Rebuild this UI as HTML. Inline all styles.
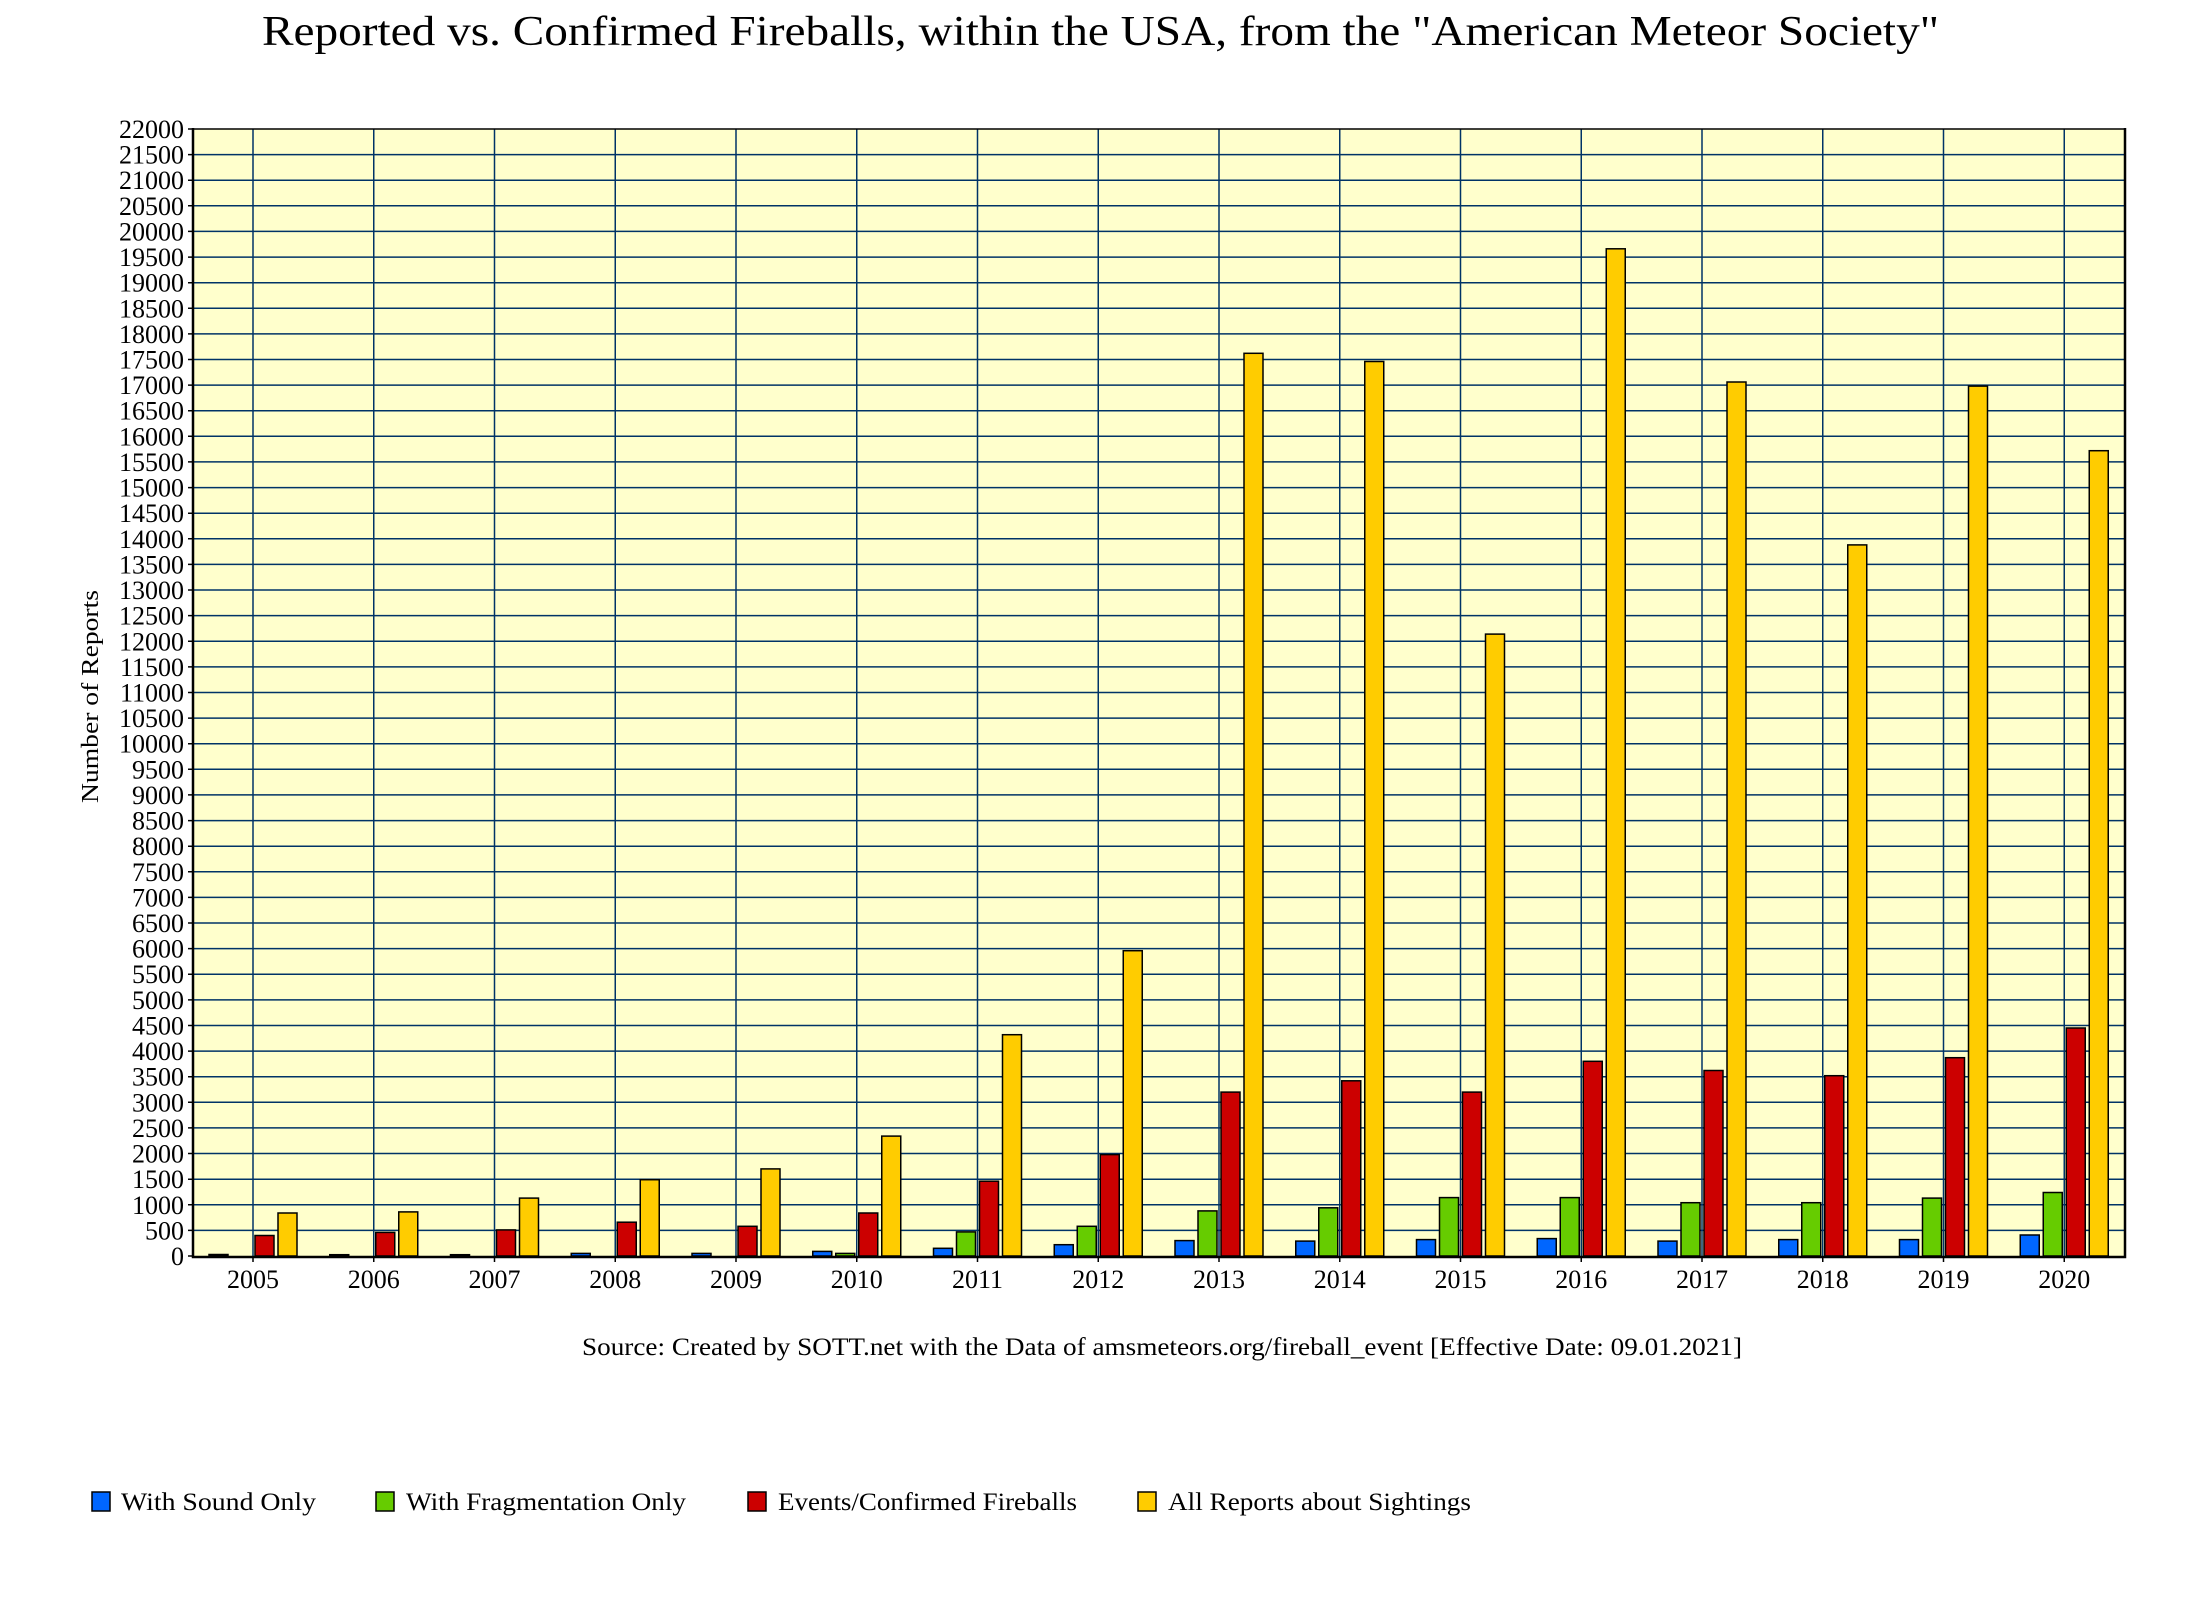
<!DOCTYPE html>
<html><head><meta charset="utf-8"><style>html,body{margin:0;padding:0;background:#fff}svg{display:block}</style></head>
<body>
<svg width="2190" height="1610" viewBox="0 0 2190 1610" xmlns="http://www.w3.org/2000/svg" font-family="'Liberation Serif', serif">
<text x="262" y="45" font-size="42" textLength="1677" lengthAdjust="spacingAndGlyphs">Reported vs. Confirmed Fireballs, within the USA, from the "American Meteor Society"</text>
<rect x="193" y="129" width="1932" height="1127" fill="#FFFFCC"/>
<g stroke="#003366" stroke-width="1.5" fill="none">
<path d="M193 1230.4H2125M193 1204.8H2125M193 1179.2H2125M193 1153.5H2125M193 1127.9H2125M193 1102.3H2125M193 1076.7H2125M193 1051.1H2125M193 1025.5H2125M193 999.9H2125M193 974.2H2125M193 948.6H2125M193 923H2125M193 897.4H2125M193 871.8H2125M193 846.2H2125M193 820.6H2125M193 794.9H2125M193 769.3H2125M193 743.7H2125M193 718.1H2125M193 692.5H2125M193 666.9H2125M193 641.3H2125M193 615.6H2125M193 590H2125M193 564.4H2125M193 538.8H2125M193 513.2H2125M193 487.6H2125M193 461.9H2125M193 436.3H2125M193 410.7H2125M193 385.1H2125M193 359.5H2125M193 333.9H2125M193 308.3H2125M193 282.7H2125M193 257.1H2125M193 231.4H2125M193 205.8H2125M193 180.2H2125M193 154.6H2125"/>
<path d="M253 129V1256M373.75 129V1256M494.5 129V1256M615.25 129V1256M736 129V1256M856.75 129V1256M977.5 129V1256M1098.25 129V1256M1219 129V1256M1339.75 129V1256M1460.5 129V1256M1581.25 129V1256M1702 129V1256M1822.75 129V1256M1943.5 129V1256M2064.25 129V1256"/>
</g>
<g stroke="#000" stroke-width="1.5" fill="none">
<path d="M253 1256v6M373.75 1256v6M494.5 1256v6M615.25 1256v6M736 1256v6M856.75 1256v6M977.5 1256v6M1098.25 1256v6M1219 1256v6M1339.75 1256v6M1460.5 1256v6M1581.25 1256v6M1702 1256v6M1822.75 1256v6M1943.5 1256v6M2064.25 1256v6"/>
<path d="M188 1256h5M188 1230.4h5M188 1204.8h5M188 1179.2h5M188 1153.5h5M188 1127.9h5M188 1102.3h5M188 1076.7h5M188 1051.1h5M188 1025.5h5M188 999.9h5M188 974.2h5M188 948.6h5M188 923h5M188 897.4h5M188 871.8h5M188 846.2h5M188 820.6h5M188 794.9h5M188 769.3h5M188 743.7h5M188 718.1h5M188 692.5h5M188 666.9h5M188 641.3h5M188 615.6h5M188 590h5M188 564.4h5M188 538.8h5M188 513.2h5M188 487.6h5M188 461.9h5M188 436.3h5M188 410.7h5M188 385.1h5M188 359.5h5M188 333.9h5M188 308.3h5M188 282.7h5M188 257.1h5M188 231.4h5M188 205.8h5M188 180.2h5M188 154.6h5M188 129h5"/>
</g>
<g transform="translate(0,1256) scale(1,-1)" stroke="#000" stroke-width="1.5">
<g fill="#0066FF">
<rect x="209" y="0" width="19" height="1.5"/><rect x="329.75" y="0" width="19" height="1.3"/><rect x="450.5" y="0" width="19" height="1.3"/><rect x="571.25" y="0" width="19" height="2.6"/><rect x="692" y="0" width="19" height="2.6"/><rect x="812.75" y="0" width="19" height="4.6"/><rect x="933.5" y="0" width="19" height="7.7"/><rect x="1054.25" y="0" width="19" height="11.3"/><rect x="1175" y="0" width="19" height="15.4"/><rect x="1295.75" y="0" width="19" height="14.9"/><rect x="1416.5" y="0" width="19" height="16.4"/><rect x="1537.25" y="0" width="19" height="17.4"/><rect x="1658" y="0" width="19" height="14.9"/><rect x="1778.75" y="0" width="19" height="16.4"/><rect x="1899.5" y="0" width="19" height="16.4"/><rect x="2020.25" y="0" width="19" height="21"/>
</g>
<g fill="#66CC00">
<rect x="835.75" y="0" width="19" height="2.6"/><rect x="956.5" y="0" width="19" height="24.1"/><rect x="1077.25" y="0" width="19" height="29.7"/><rect x="1198" y="0" width="19" height="45.1"/><rect x="1318.75" y="0" width="19" height="48.2"/><rect x="1439.5" y="0" width="19" height="58.4"/><rect x="1560.25" y="0" width="19" height="58.4"/><rect x="1681" y="0" width="19" height="53.3"/><rect x="1801.75" y="0" width="19" height="53.3"/><rect x="1922.5" y="0" width="19" height="57.9"/><rect x="2043.25" y="0" width="19" height="63.5"/>
</g>
<g fill="#CC0000">
<rect x="255" y="0" width="19" height="20.5"/><rect x="375.75" y="0" width="19" height="23.6"/><rect x="496.5" y="0" width="19" height="26.1"/><rect x="617.25" y="0" width="19" height="33.8"/><rect x="738" y="0" width="19" height="29.7"/><rect x="858.75" y="0" width="19" height="43"/><rect x="979.5" y="0" width="19" height="74.8"/><rect x="1100.25" y="0" width="19" height="101.4"/><rect x="1221" y="0" width="19" height="163.9"/><rect x="1341.75" y="0" width="19" height="175.2"/><rect x="1462.5" y="0" width="19" height="163.9"/><rect x="1583.25" y="0" width="19" height="194.7"/><rect x="1704" y="0" width="19" height="185.5"/><rect x="1824.75" y="0" width="19" height="180.3"/><rect x="1945.5" y="0" width="19" height="198.3"/><rect x="2066.25" y="0" width="19" height="228"/>
</g>
<g fill="#FFCC00">
<rect x="278" y="0" width="19" height="43"/><rect x="398.75" y="0" width="19" height="44.1"/><rect x="519.5" y="0" width="19" height="57.9"/><rect x="640.25" y="0" width="19" height="76.3"/><rect x="761" y="0" width="19" height="87.1"/><rect x="881.75" y="0" width="19" height="119.9"/><rect x="1002.5" y="0" width="19" height="221.3"/><rect x="1123.25" y="0" width="19" height="305.3"/><rect x="1244" y="0" width="19" height="902.7"/><rect x="1364.75" y="0" width="19" height="894.5"/><rect x="1485.5" y="0" width="19" height="621.9"/><rect x="1606.25" y="0" width="19" height="1007.2"/><rect x="1727" y="0" width="19" height="874"/><rect x="1847.75" y="0" width="19" height="711.1"/><rect x="1968.5" y="0" width="19" height="869.9"/><rect x="2089.25" y="0" width="19" height="805.3"/>
</g>
</g>
<g stroke="#000" stroke-width="2.5" fill="none">
<path d="M193 128V1257H2125V128"/>
</g>
<path d="M193 129H2125" stroke="#000" stroke-width="1.5"/>
<g font-size="26" text-anchor="end">
<text x="184" y="1265">0</text><text x="184" y="1239.4">500</text><text x="184" y="1213.8">1000</text><text x="184" y="1188.2">1500</text><text x="184" y="1162.5">2000</text><text x="184" y="1136.9">2500</text><text x="184" y="1111.3">3000</text><text x="184" y="1085.7">3500</text><text x="184" y="1060.1">4000</text><text x="184" y="1034.5">4500</text><text x="184" y="1008.9">5000</text><text x="184" y="983.2">5500</text><text x="184" y="957.6">6000</text><text x="184" y="932">6500</text><text x="184" y="906.4">7000</text><text x="184" y="880.8">7500</text><text x="184" y="855.2">8000</text><text x="184" y="829.6">8500</text><text x="184" y="803.9">9000</text><text x="184" y="778.3">9500</text><text x="184" y="752.7">10000</text><text x="184" y="727.1">10500</text><text x="184" y="701.5">11000</text><text x="184" y="675.9">11500</text><text x="184" y="650.3">12000</text><text x="184" y="624.6">12500</text><text x="184" y="599">13000</text><text x="184" y="573.4">13500</text><text x="184" y="547.8">14000</text><text x="184" y="522.2">14500</text><text x="184" y="496.6">15000</text><text x="184" y="470.9">15500</text><text x="184" y="445.3">16000</text><text x="184" y="419.7">16500</text><text x="184" y="394.1">17000</text><text x="184" y="368.5">17500</text><text x="184" y="342.9">18000</text><text x="184" y="317.3">18500</text><text x="184" y="291.7">19000</text><text x="184" y="266.1">19500</text><text x="184" y="240.4">20000</text><text x="184" y="214.8">20500</text><text x="184" y="189.2">21000</text><text x="184" y="163.6">21500</text><text x="184" y="138">22000</text>
</g>
<g font-size="26" text-anchor="middle">
<text x="253" y="1288">2005</text><text x="373.75" y="1288">2006</text><text x="494.5" y="1288">2007</text><text x="615.25" y="1288">2008</text><text x="736" y="1288">2009</text><text x="856.75" y="1288">2010</text><text x="977.5" y="1288">2011</text><text x="1098.25" y="1288">2012</text><text x="1219" y="1288">2013</text><text x="1339.75" y="1288">2014</text><text x="1460.5" y="1288">2015</text><text x="1581.25" y="1288">2016</text><text x="1702" y="1288">2017</text><text x="1822.75" y="1288">2018</text><text x="1943.5" y="1288">2019</text><text x="2064.25" y="1288">2020</text>
</g>
<text transform="translate(98,803) rotate(-90)" font-size="24" textLength="213" lengthAdjust="spacingAndGlyphs">Number of Reports</text>
<text x="582" y="1355" font-size="25" textLength="1160" lengthAdjust="spacingAndGlyphs">Source: Created by SOTT.net with the Data of amsmeteors.org/fireball_event [Effective Date: 09.01.2021]</text>
<g stroke="#000" stroke-width="1.5">
<rect x="92" y="1492" width="18" height="19" fill="#0066FF"/>
<rect x="376" y="1492" width="18" height="19" fill="#66CC00"/>
<rect x="748" y="1492" width="18" height="19" fill="#CC0000"/>
<rect x="1138" y="1492" width="18" height="19" fill="#FFCC00"/>
</g>
<g font-size="25">
<text x="121" y="1510" textLength="195" lengthAdjust="spacingAndGlyphs">With Sound Only</text>
<text x="406" y="1510" textLength="280" lengthAdjust="spacingAndGlyphs">With Fragmentation Only</text>
<text x="778" y="1510" textLength="299" lengthAdjust="spacingAndGlyphs">Events/Confirmed Fireballs</text>
<text x="1168" y="1510" textLength="303" lengthAdjust="spacingAndGlyphs">All Reports about Sightings</text>
</g>
</svg>
</body></html>
